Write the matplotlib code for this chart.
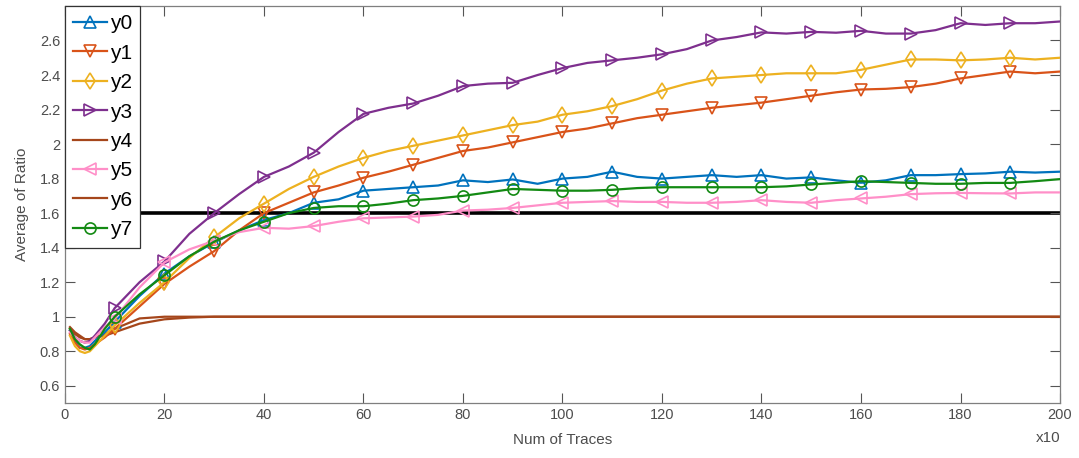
import matplotlib
matplotlib.use("Agg")
import matplotlib.pyplot as plt
from matplotlib.ticker import FuncFormatter

plt.rcParams['font.family'] = ['Liberation Sans', 'DejaVu Sans']

# trace counts (in units of 10)
x = [1, 2, 3, 4, 5, 6, 8, 10, 15, 20, 25, 30, 35, 40, 45, 50, 55, 60, 65, 70,
     75, 80, 85, 90, 95, 100, 105, 110, 115, 120, 125, 130, 135, 140, 145, 150,
     155, 160, 165, 170, 175, 180, 185, 190, 195, 200]

y0 = [0.92, 0.86, 0.82, 0.82, 0.83, 0.86, 0.91, 0.97, 1.12, 1.25, 1.35, 1.43, 1.50, 1.56, 1.60, 1.66,
      1.68, 1.73, 1.74, 1.75, 1.76, 1.79, 1.78, 1.795, 1.77, 1.80, 1.81, 1.84, 1.81, 1.80, 1.81,
      1.82, 1.81, 1.82, 1.80, 1.807, 1.79, 1.776, 1.79, 1.82, 1.82, 1.826, 1.83, 1.84, 1.835, 1.84]
y1 = [0.90, 0.85, 0.82, 0.81, 0.82, 0.84, 0.88, 0.93, 1.06, 1.19, 1.29, 1.38, 1.50, 1.60, 1.66, 1.72,
      1.76, 1.805, 1.84, 1.88, 1.92, 1.96, 1.98, 2.01, 2.04, 2.07, 2.09, 2.12, 2.15, 2.17, 2.19,
      2.21, 2.225, 2.24, 2.26, 2.28, 2.30, 2.316, 2.32, 2.33, 2.35, 2.38, 2.40, 2.42, 2.41, 2.42]
y2 = [0.89, 0.83, 0.80, 0.79, 0.80, 0.83, 0.89, 0.95, 1.08, 1.20, 1.34, 1.46, 1.57, 1.655, 1.74, 1.81,
      1.87, 1.92, 1.96, 1.99, 2.02, 2.05, 2.08, 2.11, 2.13, 2.17, 2.19, 2.22, 2.26, 2.31, 2.35,
      2.38, 2.39, 2.40, 2.41, 2.41, 2.41, 2.43, 2.46, 2.49, 2.49, 2.485, 2.49, 2.50, 2.49, 2.50]
y3 = [0.92, 0.88, 0.86, 0.85, 0.86, 0.89, 0.96, 1.05, 1.20, 1.32, 1.48, 1.60, 1.71, 1.81, 1.87, 1.95,
      2.07, 2.175, 2.21, 2.235, 2.28, 2.336, 2.35, 2.355, 2.40, 2.44, 2.47, 2.485, 2.50, 2.52, 2.55,
      2.60, 2.62, 2.647, 2.64, 2.65, 2.645, 2.656, 2.64, 2.64, 2.66, 2.70, 2.69, 2.70, 2.70, 2.71]
y4 = [0.94, 0.91, 0.89, 0.87, 0.87, 0.88, 0.90, 0.93, 0.99, 1.00, 1.00, 1.00, 1.00, 1.00, 1.00, 1.00,
      1.00, 1.00, 1.00, 1.00, 1.00, 1.00, 1.00, 1.00, 1.00, 1.00, 1.00, 1.00, 1.00, 1.00, 1.00,
      1.00, 1.00, 1.00, 1.00, 1.00, 1.00, 1.00, 1.00, 1.00, 1.00, 1.00, 1.00, 1.00, 1.00, 1.00]
y5 = [0.91, 0.88, 0.86, 0.85, 0.85, 0.88, 0.94, 0.99, 1.17, 1.315, 1.39, 1.44, 1.49, 1.515, 1.51, 1.525,
      1.55, 1.57, 1.575, 1.58, 1.59, 1.615, 1.62, 1.63, 1.645, 1.66, 1.665, 1.67, 1.665, 1.665, 1.66,
      1.66, 1.665, 1.675, 1.665, 1.66, 1.675, 1.685, 1.695, 1.71, 1.715, 1.717, 1.715, 1.714, 1.72, 1.72]
y6 = [0.93, 0.90, 0.88, 0.87, 0.87, 0.88, 0.89, 0.91, 0.96, 0.985, 0.995, 1.00, 1.00, 1.00, 1.00, 1.00,
      1.00, 1.00, 1.00, 1.00, 1.00, 1.00, 1.00, 1.00, 1.00, 1.00, 1.00, 1.00, 1.00, 1.00, 1.00,
      1.00, 1.00, 1.00, 1.00, 1.00, 1.00, 1.00, 1.00, 1.00, 1.00, 1.00, 1.00, 1.00, 1.00, 1.00]
y7 = [0.93, 0.87, 0.84, 0.82, 0.81, 0.84, 0.93, 1.00, 1.13, 1.24, 1.35, 1.435, 1.50, 1.55, 1.60, 1.63,
      1.64, 1.64, 1.655, 1.675, 1.685, 1.70, 1.72, 1.74, 1.735, 1.73, 1.73, 1.735, 1.745, 1.75, 1.75,
      1.75, 1.75, 1.75, 1.755, 1.766, 1.775, 1.785, 1.78, 1.775, 1.77, 1.77, 1.775, 1.775, 1.785, 1.797]

threshold = 1.6

series = [
    ('y0', y0, '#0072BD', '^'),
    ('y1', y1, '#D95319', 'v'),
    ('y2', y2, '#EDB120', 'd'),
    ('y3', y3, '#7E2F8E', '>'),
    ('y4', y4, '#A5461B', None),
    ('y5', y5, '#FF8FC8', '<'),
    ('y6', y6, '#A5461B', None),
    ('y7', y7, '#138A13', 'o'),
]

# markers only on every 10th trace count
mark_idx = [i for i, v in enumerate(x) if v % 10 == 0 and v < 200]

fig = plt.figure(figsize=(10.79, 4.58), dpi=100)
ax = fig.add_axes([0.0602, 0.12, 0.9222, 0.867])

ax.axhline(threshold, color='black', lw=2.6, zorder=1)

for name, ys, col, mk in series:
    if mk is None:
        ax.plot(x, ys, color=col, lw=1.6, label=name, zorder=2)
    else:
        ax.plot(x, ys, color=col, lw=1.6, marker=mk, markevery=mark_idx,
                markersize=8, fillstyle='none', markeredgewidth=1.2,
                label=name, zorder=3)

ax.set_xlim(0, 200)
ax.set_ylim(0.5, 2.8)
ax.set_xticks(range(0, 201, 20))
ax.set_yticks([0.6, 0.8, 1.0, 1.2, 1.4, 1.6, 1.8, 2.0, 2.2, 2.4, 2.6])
ax.yaxis.set_major_formatter(FuncFormatter(lambda v, p: '%g' % round(v, 2)))

gray = '#4d4d4d'
for s in ax.spines.values():
    s.set_color('#7f7f7f')
    s.set_linewidth(0.9)
ax.tick_params(direction='in', length=7, width=0.8, color='#555555',
               top=True, right=True, labelsize=10.5, labelcolor=gray)

ax.set_xlabel('Num of Traces', fontsize=11, color=gray, labelpad=8)
ax.set_ylabel('Average of Ratio', fontsize=11, color=gray, labelpad=8)
ax.text(1.0, -0.07, 'x10', transform=ax.transAxes, ha='right', va='top',
        fontsize=11, color=gray)

leg = ax.legend(loc='upper left', borderaxespad=0, fontsize=15,
                handlelength=1.6, handletextpad=0.15, labelspacing=0.5,
                borderpad=0.4, fancybox=False, framealpha=1)
leg.get_frame().set_edgecolor('#333333')
leg.get_frame().set_linewidth(0.9)

fig.savefig('out.png', dpi=100)
